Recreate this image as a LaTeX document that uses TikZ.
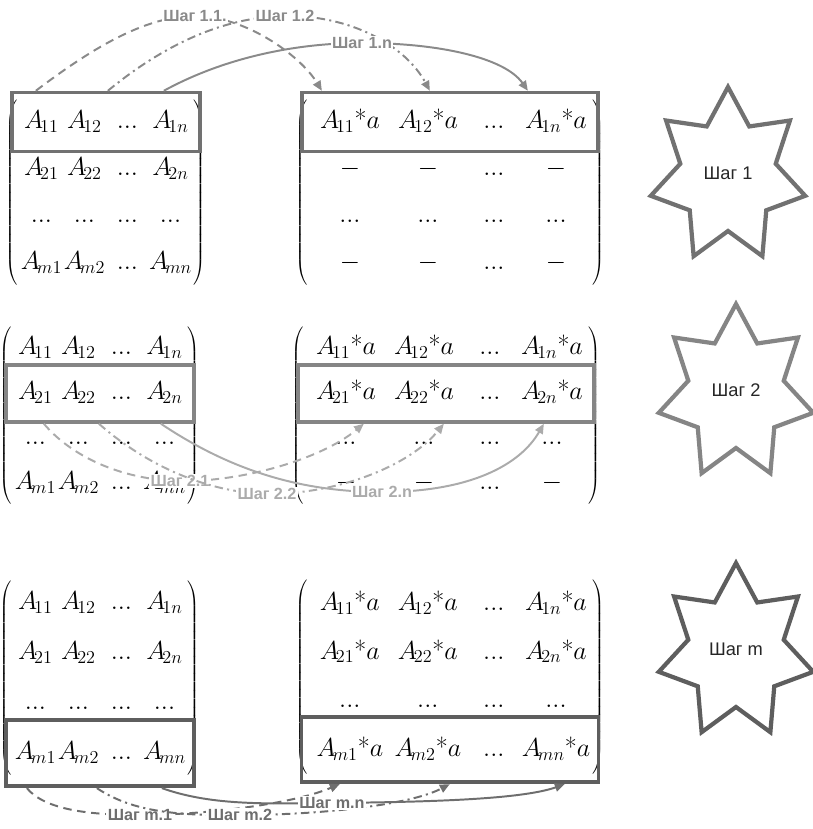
\RequirePackage{fix-cm}
\documentclass[tikz,border=0pt]{standalone}
\usepackage{fontspec}
\setsansfont{Liberation Sans}
\usetikzlibrary{matrix, fit, calc, arrows.meta, positioning}

\definecolor{frameA}{HTML}{717171}
\definecolor{frameB}{HTML}{858585}
\definecolor{frameC}{HTML}{5E5E5E}
\definecolor{arcA}{HTML}{8A8A8A}
\definecolor{arcB}{HTML}{ABABAB}
\definecolor{arcC}{HTML}{6E6E6E}

\newcommand{\mulstar}{\mbox{*}}

\begin{document}
\begin{tikzpicture}[
    x=0.025cm, y=-0.025cm,
    >={Triangle[length=7pt, width=6pt]},
    mat/.style={
        matrix of math nodes, inner sep=0pt,
        left delimiter=(, right delimiter=),
        every delimiter/.style={text height=, text depth=, minimum width=0pt, minimum height=0pt},
        nodes={inner sep=0pt, text height=14pt, text depth=5pt, minimum height=#1,
               font=\fontsize{18.5}{19}\selectfont}
    },
    lmat/.style={mat=#1, nodes={minimum width=1.075cm}},
    rmat/.style={mat=#1,
        column 1/.style={nodes={minimum width=2cm}},
        column 2/.style={nodes={minimum width=1.9cm}},
        column 3/.style={nodes={minimum width=1.4cm}},
        column 4/.style={nodes={minimum width=1.7cm}}},
    rowbox/.style={draw=#1, line width=2.6pt, inner xsep=0.2cm, inner ysep=0.14cm},
    stepline/.style={->, line width=1.4pt, draw=#1},
    dashstep/.style={stepline=#1, dash pattern=on 6pt off 4pt},
    dotstep/.style={stepline=#1, dash pattern=on 6pt off 3pt on 1.5pt off 3pt},
    stepname/.style={fill=white, inner sep=1pt, text=#1,
        font=\sffamily\bfseries\fontsize{11.5}{12}\selectfont},
    starline/.style={line width=3pt, draw=#1},
    startext/.style={font=\sffamily\fontsize{13}{15}\selectfont, text=black!85}
]
\useasboundingbox (0,0) rectangle (812,829);

% Step 1: first row
\matrix[lmat=1.175cm] (L1) at (106,192.5) {
    A_{\!11} & A_{\!12} & ... & A_{\!1n} \\
    A_{\!21} & A_{\!22} & ... & A_{\!2n} \\
    ...  & ...  & ... & ...  \\
    A_{\!m1} & A_{\!m2} & ... & A_{\!mn} \\
};
\matrix[rmat=1.175cm] (R1) at (450,192.5) {
    A_{\!11}\mulstar a & A_{\!12}\mulstar a & ... & A_{\!1n}\mulstar a \\
    - & - & ... & - \\
    ... & ... & ... & ... \\
    - & - & ... & - \\
};
\node[rowbox=frameA, fit=(L1-1-1)(L1-1-4)] (b1L) {};
\node[rowbox=frameA, fit=(R1-1-1)(R1-1-4)] (b1R) {};

% Step 2: second row
\matrix[lmat=1.125cm] (L2) at (100,416) {
    A_{\!11} & A_{\!12} & ... & A_{\!1n} \\
    A_{\!21} & A_{\!22} & ... & A_{\!2n} \\
    ...  & ...  & ... & ...  \\
    A_{\!m1} & A_{\!m2} & ... & A_{\!mn} \\
};
\matrix[rmat=1.125cm] (R2) at (446,416) {
    A_{\!11}\mulstar a & A_{\!12}\mulstar a & ... & A_{\!1n}\mulstar a \\
    A_{\!21}\mulstar a & A_{\!22}\mulstar a & ... & A_{\!2n}\mulstar a \\
    ... & ... & ... & ... \\
    - & - & ... & - \\
};
\node[rowbox=frameB, fit=(L2-2-1)(L2-2-4)] (b2L) {};
\node[rowbox=frameB, fit=(R2-2-1)(R2-2-4)] (b2R) {};

% Step m: last row
\matrix[lmat=1.25cm] (L3) at (100,678) {
    A_{\!11} & A_{\!12} & ... & A_{\!1n} \\
    A_{\!21} & A_{\!22} & ... & A_{\!2n} \\
    ...  & ...  & ... & ...  \\
    A_{\!m1} & A_{\!m2} & ... & A_{\!mn} \\
};
\matrix[rmat=1.2125cm] (R3) at (450,677) {
    A_{\!11}\mulstar a & A_{\!12}\mulstar a & ... & A_{\!1n}\mulstar a \\
    A_{\!21}\mulstar a & A_{\!22}\mulstar a & ... & A_{\!2n}\mulstar a \\
    ... & ... & ... & ... \\
    A_{\!m1}\mulstar a & A_{\!m2}\mulstar a & ... & A_{\!mn}\mulstar a \\
};
\node[rowbox=frameC, inner ysep=0.2cm, fit=(L3-4-1)(L3-4-4)] (b3L) {};
\node[rowbox=frameC, inner ysep=0.2cm, fit=(R3-4-1)(R3-4-4)] (b3R) {};

% arcs over the top
\draw[dashstep=arcA] ($(b1L.north west)+(26,0)$) .. controls (100,42) and (150,16) .. (195,16)
    node[stepname=arcA] (l11) {Шаг 1.1.} .. controls (245,16) and (300,55) .. ($(b1R.north west)+(22,0)$);
\draw[dotstep=arcA] ($(b1L.north west)+(98,0)$) .. controls (160,48) and (220,17) .. (285,16)
    node[stepname=arcA] (l12) {Шаг 1.2} .. controls (350,15) and (405,45) .. ($(b1R.north west)+(130,0)$);
\draw[stepline=arcA] ($(b1L.north west)+(154,0)$) .. controls (220,60) and (290,43) .. (362,43)
    node[stepname=arcA] (l1n) {Шаг 1.n} .. controls (440,43) and (505,58) .. ($(b1R.north west)+(228,0)$);

% arcs below, step 2
\draw[dashstep=arcB] ($(b2L.south west)+(40,0)$) .. controls (70,455) and (120,480) .. (180,481)
    node[stepname=arcB] (l21) {Шаг 2.1} .. controls (240,482) and (320,460) .. ($(b2R.south west)+(68,0)$);
\draw[dotstep=arcB] ($(b2L.south west)+(95,0)$) .. controls (140,460) and (200,492) .. (267,494)
    node[stepname=arcB] (l22) {Шаг 2.2} .. controls (340,494) and (410,465) .. ($(b2R.south west)+(148,0)$);
\draw[stepline=arcB] ($(b2L.south west)+(157,0)$) .. controls (230,470) and (300,492) .. (382,492)
    node[stepname=arcB] (l2n) {Шаг 2.n} .. controls (470,492) and (520,465) .. ($(b2R.south west)+(248,0)$);

% arcs below, step m
\draw[dashstep=arcC] ($(b3L.south west)+(23,0)$) .. controls (45,810) and (90,815) .. (140,815)
    node[stepname=arcC] (lm1) {Шаг m.1} .. controls (200,815) and (290,805) .. ($(b3R.south west)+(40,0)$);
\draw[dotstep=arcC] ($(b3L.south west)+(93,0)$) .. controls (130,810) and (170,816) .. (240,815)
    node[stepname=arcC] (lm2) {Шаг m.2} .. controls (320,815) and (410,805) .. ($(b3R.south west)+(150,0)$);
\draw[stepline=arcC] ($(b3L.south west)+(158,0)$) .. controls (210,805) and (260,804) .. (332,803)
    node[stepname=arcC] (lmn) {Шаг m.n} .. controls (420,802) and (520,800) .. ($(b3R.south west)+(265,0)$);

% seven-pointed stars
\foreach \cx/\cy/\col/\nm/\txt in {728/176/frameA/st1/Шаг 1, 736/393/frameB/st2/Шаг 2, 736/652/frameC/stm/Шаг m}{
    \draw[starline=\col] (\cx,\cy-89) \foreach \k in {1,...,13}{
        -- ({\cx+0.89*(isodd(\k)?55:89)*sin(\k*360/14)}, {\cy-(isodd(\k)?55:89)*cos(\k*360/14)})
    } -- cycle;
    \node[startext] (\nm) at (\cx,\cy-3) {\txt};
}

\end{tikzpicture}
\end{document}
